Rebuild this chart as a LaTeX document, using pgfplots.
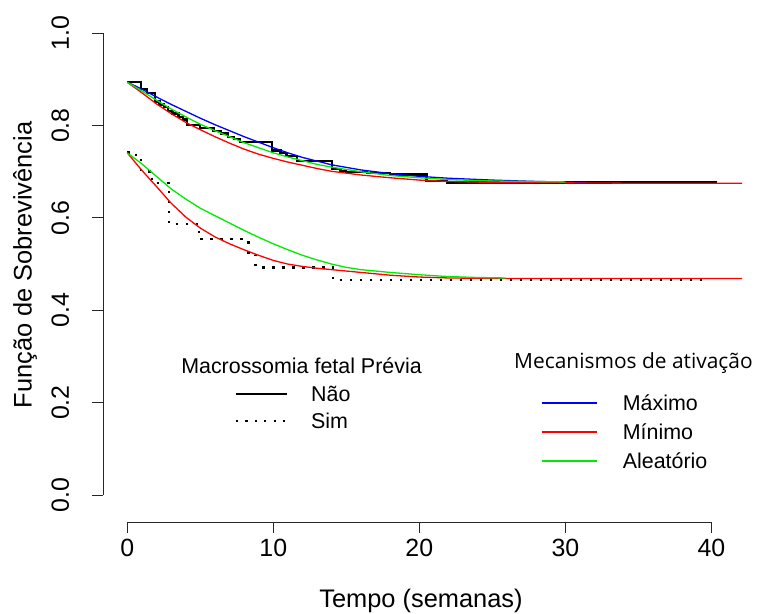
\documentclass[border=0pt]{standalone}
\usepackage{fontspec}
\setmainfont{Liberation Sans}
\newfontfamily\osans{Open Sans}
\usepackage{pgfplots}
\pgfplotsset{compat=1.18}
\definecolor{rblue}{RGB}{0,0,255}
\definecolor{rred}{RGB}{255,0,0}
\definecolor{rgreen}{RGB}{0,235,0}
\begin{document}
\begin{tikzpicture}[x=1bp,y=1bp]
\begin{axis}[
  at={(103bp,92bp)}, anchor=south west,
  scale only axis, width=658bp, height=507.2bp,
  xmin=-1.664, xmax=43.4, ymin=-0.0585, ymax=1.04,
  axis line style={draw=none},
  clip=false,
  xtick={0,10,20,30,40}, ytick={0,0.2,0.4,0.6,0.8,1},
  xtick pos=left, ytick pos=left,
  tick align=outside, major tick length=11bp,
  every tick/.style={black!85, line width=0.9bp},
  /pgf/number format/assume math mode=true,
  ticklabel style={font=\fontsize{25}{30}\selectfont},
  xticklabel style={yshift=-3bp},
  yticklabel style={xshift=-23bp, rotate=90, anchor=base, /pgf/number format/fixed, /pgf/number format/fixed zerofill, /pgf/number format/precision=1},
]
\draw[black!85, line width=0.9bp] (axis cs:0,-0.0585) -- (axis cs:40,-0.0585);
\draw[black!85, line width=0.9bp] (axis cs:-1.664,0) -- (axis cs:-1.664,1);
% Kaplan-Meier: Nao (solid)
\addplot[black, line width=2.3bp, const plot] coordinates {
(0,0.894)(0.94,0.880)(1.35,0.871)(1.9,0.852)(2.2,0.846)(2.5,0.840)(2.8,0.831)(3.1,0.826)(3.5,0.819)(3.8,0.813)(4.1,0.802)(5.0,0.795)(5.9,0.789)(6.4,0.783)(6.9,0.776)(7.3,0.771)(7.7,0.765)(9.9,0.746)(10.5,0.740)(10.9,0.734)(11.6,0.724)(14.0,0.706)(14.6,0.702)(15.0,0.700)(16.4,0.697)(18.0,0.694)(20.5,0.680)(21.9,0.677)(40.4,0.677)};
% Kaplan-Meier: Sim (dotted)
\addplot[black, line width=2.6bp, dash pattern=on 2.6bp off 7.4bp, const plot] coordinates {
(0,0.742)(0.6,0.736)(0.95,0.700)(1.7,0.676)(2.85,0.587)(4.9,0.554)(8.3,0.520)(8.8,0.493)(14.1,0.466)(39.8,0.466)};
% Maximo (upper)
\addplot[rblue, line width=1.3bp] coordinates {
(0,0.894)(1,0.879)(2,0.862)(3,0.846)(4,0.831)(5,0.816)(6,0.802)(7,0.789)(8,0.776)(9,0.764)(10,0.752)(11,0.741)(12,0.731)(13,0.723)(14,0.715)(16,0.704)(18,0.696)(20,0.690)(22,0.686)(25,0.682)(28,0.679)(31.5,0.677)};
% Minimo (upper)
\addplot[rred, line width=1.3bp] coordinates {
(0,0.894)(1,0.871)(2,0.847)(3,0.826)(4,0.807)(5,0.791)(6,0.776)(7,0.762)(8,0.749)(9,0.738)(10,0.729)(11,0.721)(12,0.714)(13,0.707)(14,0.701)(16,0.693)(18,0.687)(20,0.682)(22,0.679)(25,0.677)(30,0.676)(36,0.675)(42.1,0.675)};
% Aleatorio (upper)
\addplot[rgreen, line width=1.3bp] coordinates {
(0,0.894)(1,0.875)(2,0.855)(3,0.836)(4,0.819)(5,0.803)(6,0.789)(7,0.776)(8,0.763)(9,0.752)(10,0.741)(11,0.732)(12,0.724)(13,0.716)(14,0.710)(16,0.700)(18,0.692)(20,0.687)(22,0.683)(25,0.680)(30,0.678)};
% Minimo (lower)
\addplot[rred, line width=1.3bp] coordinates {
(0,0.741)(1,0.703)(2,0.668)(3,0.632)(4,0.602)(5,0.578)(6,0.559)(7,0.544)(8,0.531)(9,0.519)(10,0.508)(11,0.500)(12,0.495)(13,0.491)(14,0.488)(16,0.482)(18,0.476)(20,0.472)(22,0.470)(25,0.469)(30,0.469)(42.1,0.469)};
% Aleatorio (lower)
\addplot[rgreen, line width=1.3bp] coordinates {
(0,0.741)(1,0.717)(2,0.690)(3,0.663)(4,0.641)(5,0.621)(6,0.605)(7,0.589)(8,0.573)(9,0.558)(10,0.544)(11,0.531)(12,0.519)(13,0.509)(14,0.500)(15,0.493)(16,0.488)(18,0.482)(20,0.477)(22,0.473)(24,0.471)(25.9,0.470)};
\end{axis}
% axis titles
\node[font=\fontsize{25.5}{30}\selectfont, inner sep=0] at (421,13) {Tempo (semanas)};
\node[font=\fontsize{25.5}{30}\selectfont, inner sep=0, rotate=90] at (25,349) {Função de Sobrevivência};
% legend 1
\node[font=\fontsize{21.5}{26}\selectfont, inner sep=0] at (301.5,248) {Macrossomia fetal Prévia};
\draw[black, line width=2.3bp] (236,220) -- (287,220);
\node[font=\fontsize{21.5}{26}\selectfont, inner sep=0, anchor=base west] at (311,212) {Não};
\draw[black, line width=2.2bp, dash pattern=on 2.2bp off 7.2bp] (236,193) -- (287,193);
\node[font=\fontsize{21.5}{26}\selectfont, inner sep=0, anchor=base west] at (311,185) {Sim};
% legend 2
\node[font=\osans\fontsize{21}{25}\selectfont, inner sep=0, anchor=west] at (514,251) {Mecanismos de ativação};
\draw[rblue, line width=1.5bp] (541.5,211) -- (596.7,211);
\node[font=\fontsize{21.5}{26}\selectfont, inner sep=0, anchor=base west] at (622.6,203.5) {Máximo};
\draw[rred, line width=1.5bp] (541.5,182) -- (596.7,182);
\node[font=\fontsize{21.5}{26}\selectfont, inner sep=0, anchor=base west] at (622.6,174.5) {Mínimo};
\draw[rgreen, line width=1.5bp] (541.5,153) -- (596.7,153);
\node[font=\fontsize{21.5}{26}\selectfont, inner sep=0, anchor=base west] at (622.6,145.5) {Aleatório};
\pgfresetboundingbox
\useasboundingbox (0,0) rectangle (761,614);
\end{tikzpicture}
\end{document}
